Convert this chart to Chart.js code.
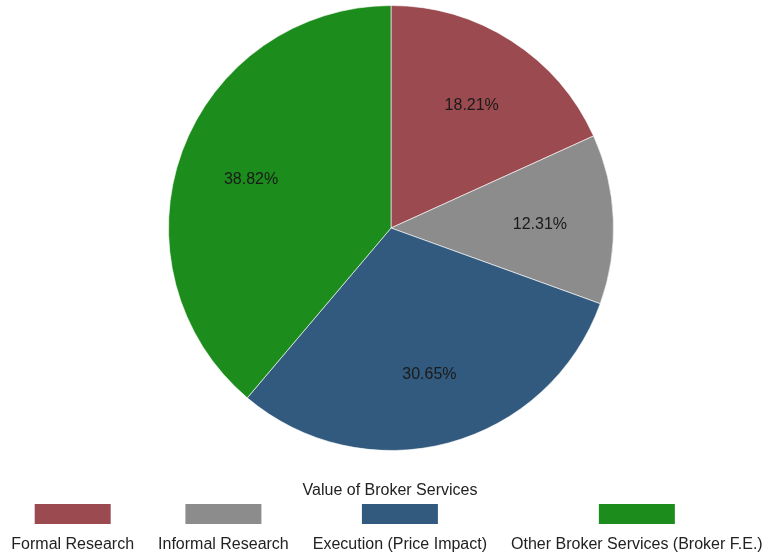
<!DOCTYPE html>
<html>
<head>
<meta charset="utf-8">
<script src="https://cdn.jsdelivr.net/npm/chart.js@4/dist/chart.umd.min.js"></script>
<style>
  html, body { margin: 0; padding: 0; background: #fff; }
  #wrap { width: 771px; height: 557px; position: relative; }
</style>
</head>
<body>
<div id="wrap"><canvas id="brokerPie"></canvas></div>
<script>
const services = ['Formal Research', 'Informal Research', 'Execution (Price Impact)', 'Other Broker Services (Broker F.E.)'];
const shares = [18.21, 12.31, 30.65, 38.82];
const sliceColors = ['#9b4a50', '#8c8c8c', '#325a7e', '#1c8c1c'];
const legendTitle = 'Value of Broker Services';

const FONT = '"Liberation Sans", Arial, sans-serif';

// percentage text inside each slice
const sliceLabels = {
    id: 'sliceLabels',
    afterDatasetsDraw(chart) {
        const ctx = chart.ctx;
        const meta = chart.getDatasetMeta(0);
        ctx.save();
        ctx.font = '16px ' + FONT;
        ctx.fillStyle = '#1a1a1a';
        ctx.textAlign = 'center';
        ctx.textBaseline = 'middle';
        meta.data.forEach((arc, i) => {
            const mid = (arc.startAngle + arc.endAngle) / 2;
            const r = arc.outerRadius * 0.67;
            ctx.fillText(shares[i].toFixed(2) + '%', arc.x + Math.cos(mid) * r, arc.y + Math.sin(mid) * r + 3);
        });
        ctx.restore();
    }
};

// legend underneath: title, then a colour box above each label
const boxLegend = {
    id: 'boxLegend',
    afterDraw(chart) {
        const ctx = chart.ctx;
        ctx.save();
        ctx.font = '16px ' + FONT;
        ctx.fillStyle = '#222';
        ctx.textAlign = 'center';
        ctx.textBaseline = 'middle';
        ctx.fillText(legendTitle, 390, 491);

        const gap = 24;
        const widths = services.map(s => ctx.measureText(s).width);
        const total = widths.reduce((a, b) => a + b, 0) + gap * (services.length - 1);
        let x = 387 - total / 2;
        services.forEach((s, i) => {
            const cx = x + widths[i] / 2;
            ctx.fillStyle = sliceColors[i];
            ctx.fillRect(cx - 38, 504, 76, 20);
            ctx.fillStyle = '#222';
            ctx.fillText(s, cx, 545);
            x += widths[i] + gap;
        });
        ctx.restore();
    }
};

new Chart(document.getElementById('brokerPie'), {
    type: 'pie',
    data: {
        labels: services,
        datasets: [{
            data: shares,
            backgroundColor: sliceColors,
            borderColor: 'rgba(255,255,255,0.6)',
            borderWidth: 1
        }]
    },
    options: {
        responsive: true,
        maintainAspectRatio: false,
        animation: false,
        layout: { padding: { top: 5, bottom: 106, left: 11, right: 0 } },
        plugins: {
            legend: { display: false },
            tooltip: { enabled: false }
        }
    },
    plugins: [sliceLabels, boxLegend]
});
</script>
</body>
</html>
